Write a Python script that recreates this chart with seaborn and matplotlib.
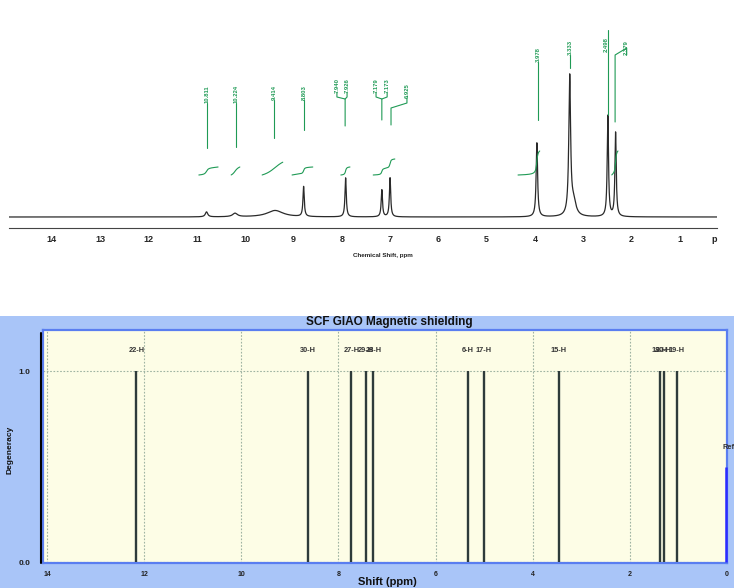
import numpy as np
import pandas as pd
import seaborn as sns
import matplotlib.pyplot as plt
from matplotlib.lines import Line2D
from matplotlib.patches import Rectangle
from matplotlib.ticker import MultipleLocator

peak_ppm = [10.80, 10.21, 9.38, 8.79, 7.92, 7.17, 7.00, 3.96, 3.28, 3.20, 2.49, 2.33]
peak_height = [5, 3.5, 6.5, 30, 39, 27, 39, 74, 138, 14, 101, 84]
peak_hwhm = [0.03, 0.06, 0.20, 0.016, 0.016, 0.016, 0.016, 0.018, 0.022, 0.06, 0.016, 0.016]

# peak picking labels
pick_text = ["10.811", "10.224", "9.414", "8.803", "7.940", "7.926",
             "7.179", "7.173", "6.925", "3.978", "3.333", "2.498", "2.379"]

# integral regions (ppm) and proton counts
integ_from = [10.96, 10.29, 9.65, 9.03, 8.02, 7.35, 4.35, 2.41]
integ_to = [10.56, 10.11, 9.22, 8.60, 7.83, 6.90, 3.90, 2.28]
integ_nh = [1, 1, 1.6, 1, 1, 2, 3, 3]

# ---- GIAO calculated shifts ----
calc_ppm = [12.16, 8.62, 7.73, 7.43, 7.28, 5.33, 5.01, 3.46, 1.38, 1.30, 1.03]
calc_label = ["22-H", "30-H", "27-H", "29-H", "28-H", "6-H", "17-H", "15-H",
              "18-H", "20-H", "19-H"]
calc_degen = [1, 1, 1, 1, 1, 1, 1, 1, 1, 1, 1]
ref_ppm = 0.02
ref_degen = 0.5

W, H = 734, 588
fig = plt.figure(figsize=(W / 100, H / 100), dpi=100)
sns.set_style("white")
plt.rcParams["font.family"] = ["Liberation Sans", "DejaVu Sans"]


def fx(px):
    return px / W


def fy(py):
    return 1 - py / H


green = "#1f9a55"

# ================= top: experimental spectrum =================
ax1 = fig.add_axes([fx(9), fy(228), fx(708), 213 / H])
ppm = np.linspace(14.89, 0.23, 8000)
spec = np.zeros_like(ppm)
for p, h, w in zip(peak_ppm, peak_height, peak_hwhm):
    spec += h * w**2 / ((ppm - p) ** 2 + w**2)
df = pd.DataFrame({"ppm": ppm, "intensity": spec})
sns.lineplot(data=df, x="ppm", y="intensity", ax=ax1, color="#2a2a2a",
             lw=0.9, estimator=None, sort=False)
ax1.set_xlim(14.89, 0.23)
ax1.set_ylim(-11, 202)
for s in ["top", "right", "left"]:
    ax1.spines[s].set_visible(False)
ax1.spines["bottom"].set_color("#444444")
ax1.spines["bottom"].set_linewidth(0.8)
ax1.set_yticks([])
ax1.set_xticks(range(1, 15))
ax1.xaxis.set_minor_locator(MultipleLocator(0.2))
ax1.tick_params(axis="x", which="major", direction="in", length=4, width=0.8,
                color="#444444", pad=5, labelsize=6.5)
ax1.tick_params(axis="x", which="minor", direction="in", length=2, width=0.6,
                color="#666666")
for t in ax1.get_xticklabels():
    t.set_fontweight("bold")
ax1.set_xlabel("")
ax1.set_ylabel("")

# integral curves
for a, b, n in zip(integ_from, integ_to, integ_nh):
    m = (ppm <= a) & (ppm >= b)
    c = np.cumsum(spec[m])
    c = 42 + n * 8 * c / c[-1]
    ax1.plot(ppm[m], c, color=green, lw=0.8)

# peak pick labels and leader lines (x in ppm, y in display units)
lab_x = [10.79, 10.19, 9.40, 8.78, 8.10, 7.89, 7.29, 7.06, 6.65, 3.94, 3.27, 2.53, 2.10]
lab_y = [114, 114, 117, 117, 124, 124, 124, 124, 119, 155, 162, 165, 162]
for t, x, y in zip(pick_text, lab_x, lab_y):
    ax1.text(x, y, t, rotation=90, ha="center", va="bottom", fontsize=4.2,
             fontweight="bold", color=green, clip_on=False)
leaders = [
    [(10.79, 114), (10.79, 69)],
    [(10.19, 114), (10.19, 70)],
    [(9.40, 117), (9.40, 79)],
    [(8.78, 117), (8.78, 87)],
    [(8.10, 124), (8.10, 120), (7.93, 118), (7.93, 91)],
    [(7.89, 124), (7.89, 120), (7.93, 118)],
    [(7.29, 124), (7.29, 120), (7.17, 118), (7.17, 97)],
    [(7.06, 124), (7.06, 120), (7.17, 118)],
    [(6.65, 119), (6.65, 114), (6.98, 109), (6.98, 92)],
    [(3.94, 155), (3.94, 97)],
    [(3.27, 162), (3.27, 149)],
    [(2.49, 187), (2.49, 102)],
    [(2.10, 162), (2.10, 169), (2.34, 162), (2.34, 95)],
]
for pts in leaders:
    xs, ys = zip(*pts)
    ax1.plot(xs, ys, color=green, lw=0.8, clip_on=False)

fig.text(fx(383), fy(256), "Chemical Shift, ppm", ha="center", va="center",
         fontsize=4.5, fontweight="bold", color="#222222")
fig.text(fx(714), fy(240), "p", ha="center", va="center", fontsize=6.5,
         fontweight="bold", color="#222222")

# ================= bottom: GIAO stick spectrum =================
fig.add_artist(Rectangle((0, 0), 1, fy(316), transform=fig.transFigure,
                         facecolor="#a9c5f8", edgecolor="none", zorder=-2))

ax2 = fig.add_axes([fx(43), fy(563), fx(684), 233 / H])
ax2.set_facecolor("#fdfde6")
ax2.set_xlim(14.08, 0.02)
ax2.set_ylim(-0.005, 1.215)
for s in ax2.spines.values():
    s.set_color("#5a7ef0")
    s.set_linewidth(1.6)
ax2.set_xticks(range(0, 15, 2))
ax2.xaxis.set_minor_locator(MultipleLocator(0.5))
ax2.set_yticks([0.0, 1.0])
ax2.set_yticklabels(["0.0", "1.0"])
ax2.tick_params(axis="x", which="major", direction="out", length=4, width=1,
                color="black", pad=2, labelsize=5)
ax2.tick_params(axis="x", which="minor", direction="out", length=2.5,
                width=1, color="black")
ax2.tick_params(axis="y", direction="out", length=6, width=1, color="black",
                pad=3, labelsize=6)
for t in ax2.get_xticklabels() + ax2.get_yticklabels():
    t.set_fontweight("bold")
    t.set_color("#222222")
ax2.grid(True, which="major", ls=(0, (1.5, 1.5)), color="#9fb3a2", lw=0.8)
ax2.set_axisbelow(True)

sticks = pd.DataFrame({"ppm": calc_ppm, "deg": calc_degen, "label": calc_label})
ax2.vlines(sticks["ppm"], 0, sticks["deg"], color="#2e3b3b", lw=1.7, zorder=3)
for x, lab in zip(sticks["ppm"], sticks["label"]):
    ax2.text(x, 1.11, lab, ha="center", va="center", fontsize=5.3,
             fontweight="bold", color="#333333")
ax2.vlines([ref_ppm], 0, [ref_degen], color="#2b2bff", lw=1.8, zorder=3,
           clip_on=False)
ax2.text(0.10, 0.60, "Ref", ha="left", va="center", fontsize=5.3,
         fontweight="bold", color="#333333", clip_on=False)

fig.add_artist(Line2D([fx(41), fx(41)], [fy(333), fy(563)], color="black",
                      lw=1.5))
fig.text(fx(389), fy(322), "SCF GIAO Magnetic shielding", ha="center",
         va="center", fontsize=8.5, fontweight="bold", color="#111111")
fig.text(fx(387), fy(582), "Shift (ppm)", ha="center", va="center",
         fontsize=8, fontweight="bold", color="#111111")
fig.text(fx(10), fy(450), "Degeneracy", ha="center", va="center",
         rotation=90, fontsize=6, fontweight="bold", color="#111111")

fig.savefig("out.png", dpi=100)
